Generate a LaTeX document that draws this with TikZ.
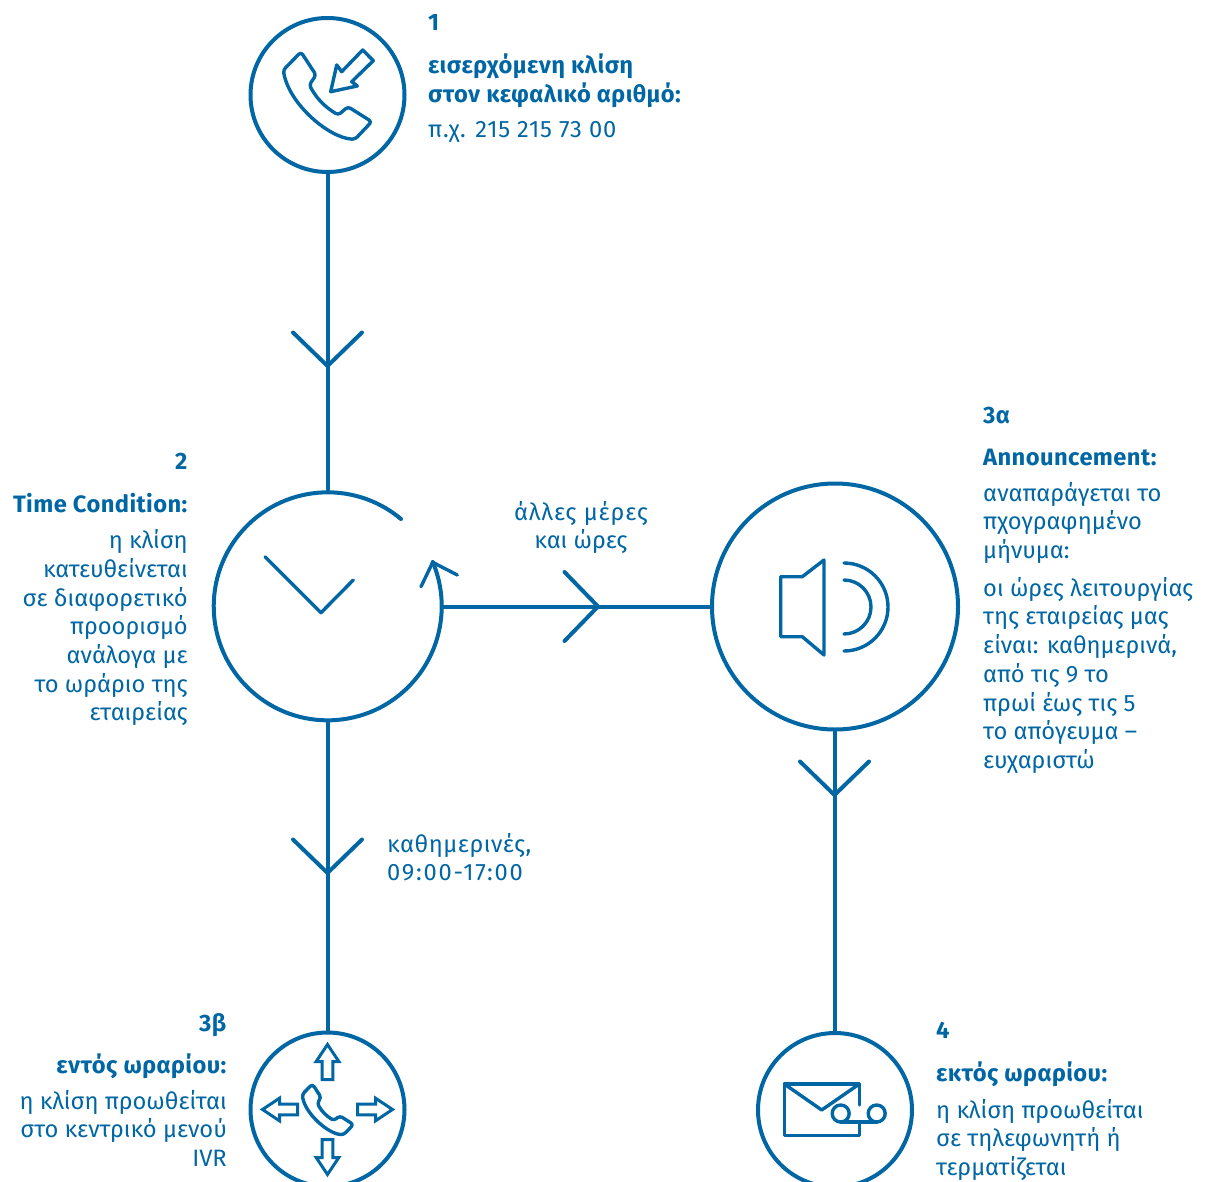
\documentclass[tikz,border=0pt]{standalone}
\usepackage{fontspec}
\setmainfont{Fira Sans}[BoldFeatures={LetterSpace=1.8}]
\usepackage{xcolor}
\definecolor{flowblue}{HTML}{0066A4}
\newcommand{\wider}[2]{{\addfontfeature{LetterSpace=#1}#2}}
\tikzset{
  flow/.style={draw=flowblue, line width=4pt, line join=round},
  icon/.style={draw=flowblue, line width=3.4pt, line cap=round, line join=round},
  thinicon/.style={draw=flowblue, line width=3pt, line join=miter},
  disc/.style={circle, flow, inner sep=0pt, outer sep=0pt},
  lab/.style={text=flowblue, inner sep=0pt, yshift=20.09pt,
    font=\fontsize{23.7}{28.7}\selectfont, execute at begin node=\strut},
  labl/.style={lab, anchor=north west, align=left},
  labr/.style={lab, anchor=north east, align=right},
  labc/.style={lab, anchor=north, align=center},
  chevron/.pic={\draw[flow, line cap=round] (-34.5,-33.5)--(0,0)--(34.5,-33.5);},
  handset/.pic={\draw[icon, rounded corners=3pt] (-26,-43)--(-11,-20)--(-17.7,-10)
    .. controls (-10,4) and (-2,12) .. (11.3,20)--(21,11.7)--(44.7,26.7)--(28,44.3)
    .. controls (2,43) and (-38,9) .. (-43.7,-25)--cycle;},
  routearrow/.pic={\draw[thinicon] (0,-65)--(11.3,-48)--(5.3,-48)--(5.3,-30)--(-5.3,-30)
    --(-5.3,-48)--(-11.3,-48)--cycle;},
}

\begin{document}
\begin{tikzpicture}[x=1pt, y=-1pt]
  \clip (0,0) rectangle (1207,1182);

  % circles
  \node[disc, minimum size=154pt] (call) at (327.5,95) {};
  \node[circle, inner sep=0pt, outer sep=0pt, minimum size=228pt] (time) at (327.5,606.5) {};
  \node[disc, minimum size=246pt] (speaker) at (835,606.5) {};
  \node[disc, minimum size=154pt] (ivr) at (327.5,1109.5) {};
  \node[disc, minimum size=154pt] (mail) at (835,1110) {};

  % connectors
  \draw[flow] (call.south)--(time.north);
  \draw[flow] (time.south)--(ivr.north);
  \draw[flow] (time.east)--(speaker.west);
  \draw[flow] (speaker.south)--(mail.north);
  \pic at (327.5,366) {chevron};
  \pic at (327.5,873) {chevron};
  \pic at (834.5,795) {chevron};
  \pic[rotate=90] at (598,606.5) {chevron};

  % incoming call
  \pic at (327,95) {handset};
  \draw[icon] (330.7,91.7)--(336.7,65)--(341.7,71.7)--(362.7,50)--(373.3,60.7)
    --(351.7,81.7)--(357.3,86)--cycle;

  % clock
  \draw[flow, line cap=round] (401,519) arc[start angle=50, end angle=382.9, radius=114pt];
  \draw[icon] (421,586.7)--(432.7,562.3)--(457.3,575);
  \draw[icon] (265,556.7)--(321,612.7)--(353.3,580);

  % speaker
  \draw[icon] (780.7,576.7)--(802.3,576.7)--(824,560)--(824,655)--(802.3,636.7)--(780.7,636.7)--cycle;
  \draw[icon] (844,580) arc[start angle=90, end angle=-90, radius=27pt];
  \draw[icon] (844,563) arc[start angle=90, end angle=-90, radius=44pt];

  % routing
  \pic[scale=0.58] at (327.5,1109) {handset};
  \foreach \a in {0,90,180,270}
    \pic[rotate=\a] at (327.5,1109.5) {routearrow};

  % voicemail
  \draw[icon] (859.3,1105)--(859.3,1084)--(784.3,1084)--(784.3,1135.7)--(859.3,1135.7)--(859.3,1123);
  \draw[icon] (784.3,1084)--(821.7,1110)--(859.3,1084);
  \draw[icon] (840.7,1113.5) circle[radius=8.5pt];
  \draw[icon] (876.7,1113.5) circle[radius=8.5pt];
  \draw[icon] (840.7,1122)--(876.7,1122);

  % texts
  \node[labl] (n1) at (428,30) {\textbf{1}};
  \node[labl] (t1) at (428,74) {\textbf{εισερχόμενη κλίση}\\\textbf{στον κεφαλικό αριθμό:}};
  \node[labl] (d1) at (428,137.5) {\wider{3.3}{π.χ. 215 215 73 00}};

  \node[labr] (n2) at (188,469) {\textbf{2}};
  \node[labr] (t2) at (188,512) {\textbf{Time Condition:}};
  \node[labr] (d2) at (188,549.5) {η κλίση\\κατευθείνεται\\σε διαφορετικό\\προορισμό\\ανάλογα με\\το ωράριο της\\εταιρείας};

  \node[labc] (other) at (581,521) {\wider{4}{άλλες μέρες}\\και ώρες};
  \node[labl] (week) at (387,853) {\wider{2.5}{καθημερινές,}\\\wider{7.5}{09:00-17:00}};

  \node[labl] (n3a) at (983,423) {\textbf{3α}};
  \node[labl] (t3a) at (983,465) {\textbf{Announcement:}};
  \node[labl] (d3a) at (983,502) {αναπαράγεται το\\πχογραφημένο\\μήνυμα:};
  \node[labl] (m3a) at (983,597) {οι ώρες λειτουργίας\\της εταιρείας μας\\είναι: καθημερινά,\\από τις 9 το\\πρωί έως τις 5\\το απόγευμα –\\ευχαριστώ};

  \node[labr] (n3b) at (227,1031) {\textbf{3β}};
  \node[labr] (t3b) at (227,1073) {\textbf{εντός ωραρίου:}};
  \node[labr] (d3b) at (227,1110) {η κλίση προωθείται\\στο κεντρικό μενού\\IVR};

  \node[labl] (n4) at (936,1038) {\textbf{4}};
  \node[labl] (t4) at (936,1081) {\textbf{εκτός ωραρίου:}};
  \node[labl] (d4) at (936,1119) {η κλίση προωθείται\\σε τηλεφωνητή ή\\τερματίζεται};
\end{tikzpicture}
\end{document}
